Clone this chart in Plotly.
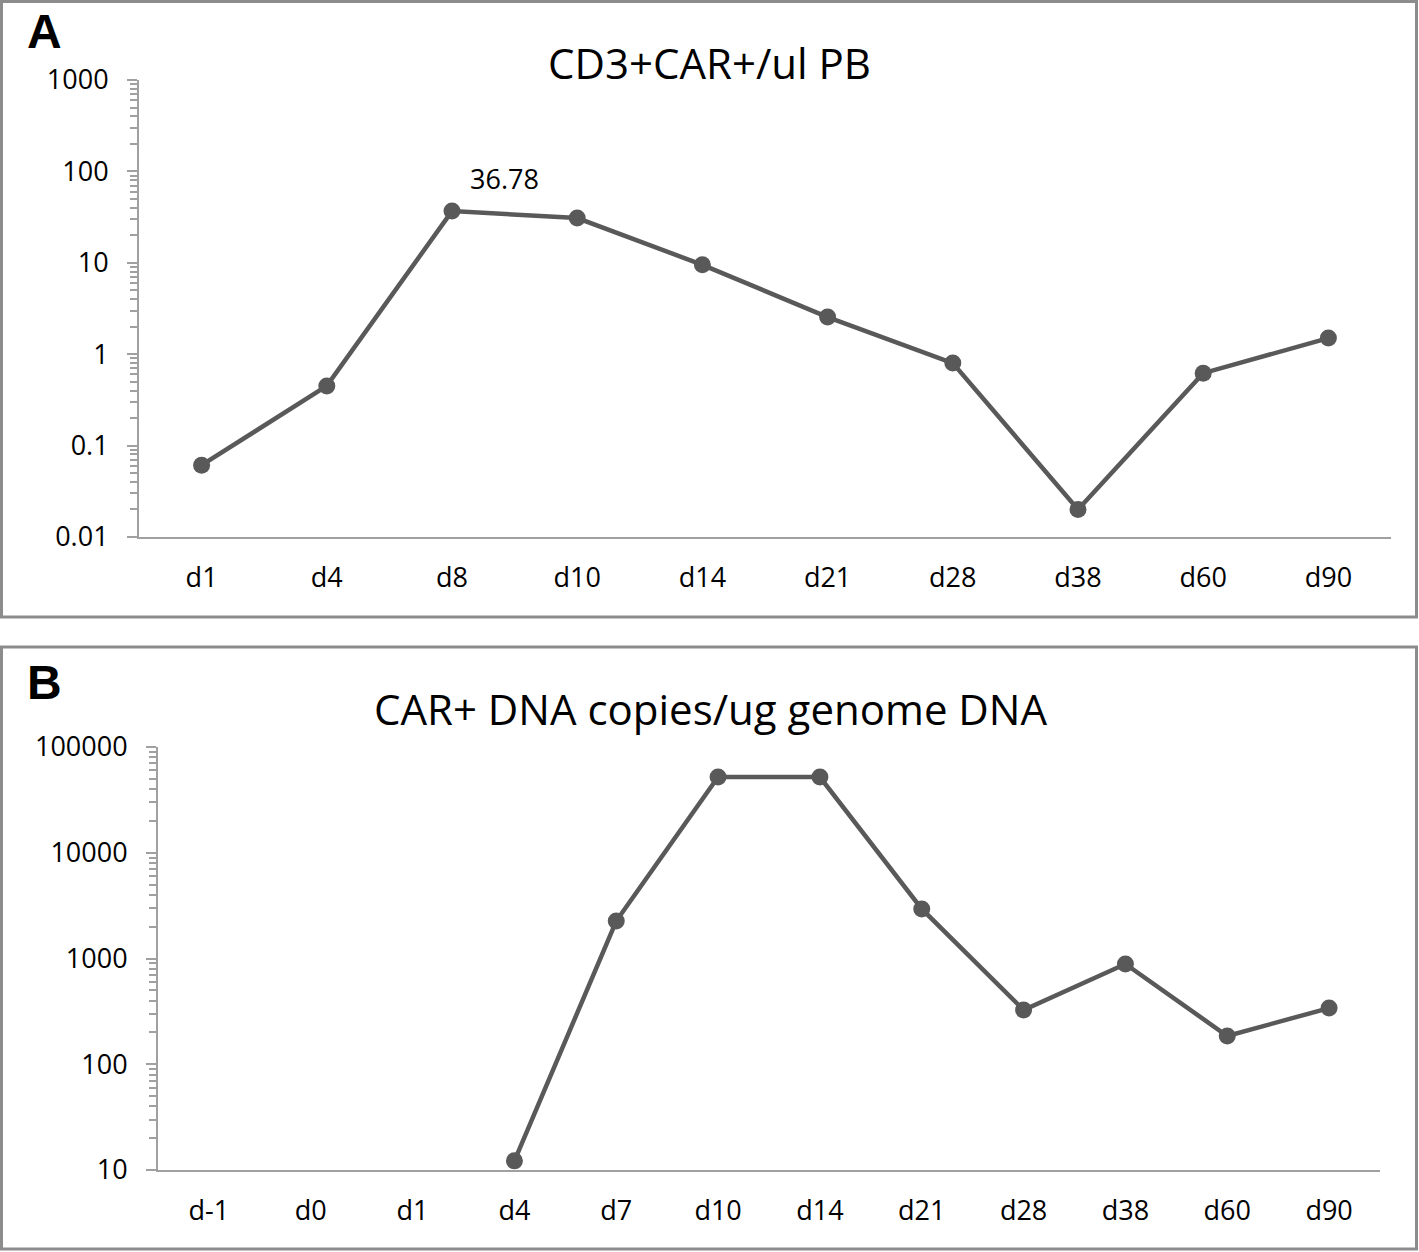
import plotly.graph_objects as go
import math

# Panel A data
days_a = ["d1", "d4", "d8", "d10", "d14", "d21", "d28", "d38", "d60", "d90"]
cd3_car = [0.061, 0.45, 36.78, 30.9, 9.5, 2.55, 0.80, 0.020, 0.62, 1.50]

# Panel B data
days_b = ["d-1", "d0", "d1", "d4", "d7", "d10", "d14", "d21", "d28", "d38", "d60", "d90"]
car_dna = [None, None, None, 12.2, 2260, 52000, 52000, 2940, 326, 887, 185, 340]

title_a = "CD3+CAR+/ul PB"
title_b = "CAR+ DNA copies/ug genome DNA"

W, H = 1419, 1252
FONT = "Open Sans"
LINE_C = "#595959"
AXIS_C = "#a0a0a0"
BOX_C = "#8c8c8c"

def px(x):
    return x / W

def py(y):
    return 1 - y / H

fig = go.Figure()

fig.add_trace(go.Scatter(
    x=days_a, y=cd3_car, mode="lines+markers",
    line=dict(color=LINE_C, width=4.5),
    marker=dict(color=LINE_C, size=17),
    xaxis="x", yaxis="y", showlegend=False, hoverinfo="skip"))

fig.add_trace(go.Scatter(
    x=days_b, y=car_dna, mode="lines+markers",
    line=dict(color=LINE_C, width=4.5),
    marker=dict(color=LINE_C, size=17),
    xaxis="x2", yaxis="y2", showlegend=False, connectgaps=False, hoverinfo="skip"))

tickfont = dict(family=FONT, size=27, color="black")

def xax(domain, cats, anchor):
    return dict(domain=domain, anchor=anchor, type="category",
                categoryorder="array", categoryarray=cats,
                range=[-0.5, len(cats) - 0.5], automargin=False,
                showline=True, linecolor=AXIS_C, linewidth=2,
                showgrid=False, zeroline=False, ticks="",
                tickfont=tickfont, ticklabelstandoff=16, fixedrange=True)

def yax(domain, rng, anchor):
    return dict(domain=domain, anchor=anchor, type="log", range=rng,
                dtick=1, tickformat="~g", automargin=False,
                showline=True, linecolor=AXIS_C, linewidth=2,
                showgrid=False, zeroline=False,
                ticks="outside", ticklen=10, tickwidth=2, tickcolor=AXIS_C,
                minor=dict(ticks="outside", ticklen=7, tickwidth=2,
                           tickcolor=AXIS_C, dtick="D1", showgrid=False),
                tickfont=tickfont, ticklabelstandoff=13, fixedrange=True)

fig.update_layout(
    width=W, height=H,
    margin=dict(l=0, r=0, t=0, b=0, pad=0, autoexpand=False),
    paper_bgcolor="white", plot_bgcolor="white",
    xaxis=xax([px(139), px(1391)], days_a, "y"),
    yaxis=yax([py(537), py(80)], [-2, 3], "x"),
    xaxis2=xax([px(158), px(1380)], days_b, "y2"),
    yaxis2=yax([py(1170), py(747)], [1, 5], "x2"),
    shapes=[
        dict(type="rect", xref="paper", yref="paper",
             x0=px(1.5), x1=px(1416.5), y0=py(617), y1=py(1.5),
             line=dict(color=BOX_C, width=3)),
        dict(type="rect", xref="paper", yref="paper",
             x0=px(1.5), x1=px(1416.5), y0=py(1249), y1=py(647),
             line=dict(color=BOX_C, width=3)),
    ],
    annotations=[
        dict(text=title_a, xref="paper", yref="paper", x=px(709), y=py(62),
             showarrow=False, xanchor="center", yanchor="middle",
             font=dict(family=FONT, size=42, color="black")),
        dict(text=title_b, xref="paper", yref="paper", x=px(710), y=py(708),
             showarrow=False, xanchor="center", yanchor="middle",
             font=dict(family=FONT, size=42, color="black")),
        dict(text="<b>A</b>", xref="paper", yref="paper", x=px(25), y=py(31),
             showarrow=False, xanchor="left", yanchor="middle",
             font=dict(family="Liberation Sans", size=48, color="black")),
        dict(text="<b>B</b>", xref="paper", yref="paper", x=px(25), y=py(682),
             showarrow=False, xanchor="left", yanchor="middle",
             font=dict(family="Liberation Sans", size=48, color="black")),
        dict(text=f"{cd3_car[2]:.2f}", xref="x", yref="y", x=days_a[2],
             y=math.log10(cd3_car[2]), showarrow=False,
             xanchor="center", yanchor="middle", xshift=52, yshift=33,
             font=tickfont),
    ],
)

fig.write_html(
    "out.html",
    config={"displayModeBar": False},
    post_script="document.documentElement.style.margin='0';"
                "document.body.style.margin='0';"
                "document.body.style.padding='0';"
                "document.body.style.overflow='hidden';",
)
